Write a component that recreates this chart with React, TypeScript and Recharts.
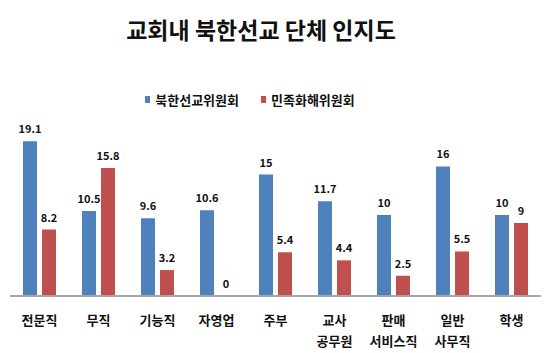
import { BarChart, Bar, XAxis, YAxis, LabelList } from "recharts";

const categories = ["전문직", "무직", "기능직", "자영업", "주부", "교사\n공무원", "판매\n서비스직", "일반\n사무직", "학생"];
const northMission = [19.1, 10.5, 9.6, 10.6, 15, 11.7, 10, 16, 10];
const reconciliation = [8.2, 15.8, 3.2, 0, 5.4, 4.4, 2.5, 5.5, 9];
const seriesNames = ["북한선교위원회", "민족화해위원회"];
const seriesColors = ["#4F81BD", "#C0504D"];

const data = categories.map((c, i) => ({
  name: c,
  north: northMission[i],
  recon: reconciliation[i],
}));

const FONT = "'Noto Sans CJK KR', 'Noto Sans', sans-serif";

function CategoryTick({ x, y, payload }: any) {
  const lines = String(payload.value).split("\n");
  return (
    <text x={x} y={y} textAnchor="middle" fontFamily={FONT} fontWeight="bold" fontSize={13} fill="#111">
      {lines.map((l, i) => (
        <tspan key={i} x={x} dy={21}>
          {l}
        </tspan>
      ))}
    </text>
  );
}

function ValueLabel({ x, y, width, value }: any) {
  return (
    <text x={x + width / 2} y={y - 8} textAnchor="middle" fontFamily={FONT} fontWeight="bold" fontSize={11} fill="#111">
      {value}
    </text>
  );
}

// keep zero-value bars present so their "0" label is drawn
const tinyForZero = (v: any) => (v === 0 ? 0.01 : 0);

export default function App() {
  return (
    <div style={{ position: "absolute", left: 0, top: 0, width: 550, height: 353, background: "#fff" }}>
      <div
        style={{
          position: "absolute",
          top: 12,
          left: 0,
          width: 522,
          textAlign: "center",
          fontFamily: FONT,
          fontWeight: "bold",
          fontSize: 23,
          color: "#111",
        }}
      >
        교회내 북한선교 단체 인지도
      </div>
      <div
        style={{
          position: "absolute",
          top: 90,
          left: 0,
          width: 500,
          display: "flex",
          justifyContent: "center",
          gap: 22,
          fontFamily: FONT,
          fontWeight: "bold",
          fontSize: 13,
          color: "#111",
        }}
      >
        {seriesNames.map((n, i) => (
          <div key={n} style={{ display: "flex", alignItems: "center", gap: 5 }}>
            <span style={{ width: 5, height: 7, background: seriesColors[i], display: "inline-block" }} />
            <span>{n}</span>
          </div>
        ))}
      </div>
      <BarChart
        width={550}
        height={353}
        data={data}
        margin={{ top: 134, right: 9, bottom: 0, left: 10 }}
        barSize={14}
        barGap={5}
        style={{ position: "absolute", left: 0, top: 0 }}
      >
        <XAxis
          dataKey="name"
          axisLine={{ stroke: "#a6a6a6", strokeWidth: 2 }}
          tickLine={false}
          tick={<CategoryTick />}
          interval={0}
          height={57}
        />
        <YAxis hide domain={[0, 20]} />
        <Bar dataKey="north" name={seriesNames[0]} fill={seriesColors[0]} isAnimationActive={false} minPointSize={tinyForZero}>
          <LabelList dataKey="north" content={<ValueLabel />} />
        </Bar>
        <Bar dataKey="recon" name={seriesNames[1]} fill={seriesColors[1]} isAnimationActive={false} minPointSize={tinyForZero}>
          <LabelList dataKey="recon" content={<ValueLabel />} />
        </Bar>
      </BarChart>
    </div>
  );
}
